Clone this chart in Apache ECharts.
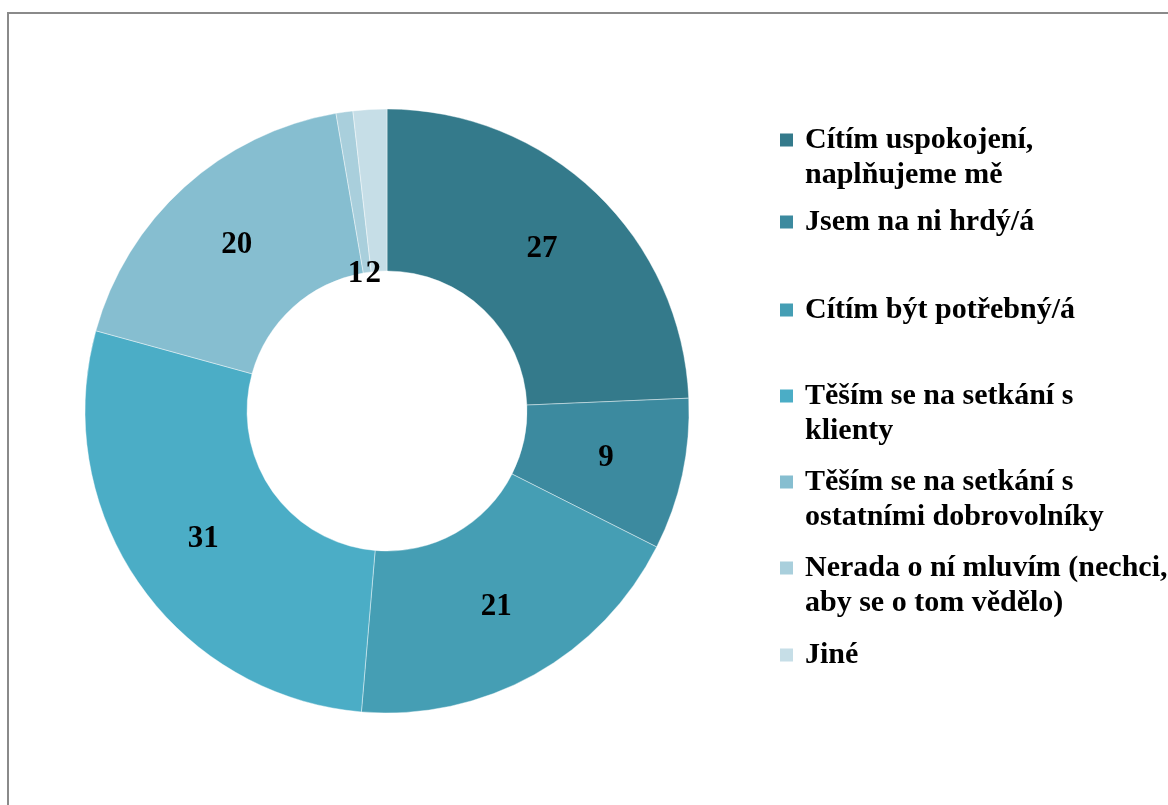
<!DOCTYPE html>
<html>
<head>
<meta charset="utf-8">
<script src="https://cdn.jsdelivr.net/npm/echarts@6/dist/echarts.min.js"></script>
<style>
  html, body { margin: 0; padding: 0; background: #fff; }
  #chart { width: 1168px; height: 805px; }
</style>
</head>
<body>
<div id="chart"></div>
<script>
// categories (legend text, \n = line break as in the picture)
const categories = [
  'Cítím uspokojení,\nnaplňujeme mě',
  'Jsem na ni hrdý/á',
  'Cítím být potřebný/á',
  'Těším se na setkání s\nklienty',
  'Těším se na setkání s\nostatními dobrovolníky',
  'Nerada o ní mluvím (nechci,\naby se o tom vědělo)',
  'Jiné'
];
const values = [27, 9, 21, 31, 20, 1, 2];
const colors = ['#347a8b', '#3c8a9f', '#459eb4', '#4badc6', '#86bed0', '#a9cfdc', '#c6dee7'];
// vertical position of the first text line of each legend entry
const legendLineY = [140, 222, 310, 396, 482, 568, 655];

const FONT = '"Liberation Serif", "Times New Roman", serif';
const LINE_H = 35;

// square marker, padded so that text starts further right and the marker
// sits on the first text line for two-line entries
function markerPath(lines) {
  const h = lines * LINE_H;
  const top = LINE_H / 2 - 6.5;
  return 'path://M0,0L0.001,0M0,' + top + 'L13,' + top + 'L13,' + (top + 13) + 'L0,' + (top + 13) +
    'ZM25,' + h + 'L25.001,' + h;
}

const legends = categories.map((name, i) => {
  const lines = name.split('\n').length;
  return {
    orient: 'vertical',
    left: 780,
    top: legendLineY[i] - LINE_H / 2,
    padding: 0,
    itemWidth: 25,
    itemHeight: lines * LINE_H,
    icon: markerPath(lines),
    itemStyle: { borderWidth: 0 },
    selectedMode: false,
    data: [name],
    textStyle: {
      fontFamily: FONT,
      fontWeight: 'bold',
      fontSize: 30,
      lineHeight: LINE_H,
      color: '#000',
      padding: [0, 0, 0, -5]
    }
  };
});

const chart = echarts.init(document.getElementById('chart'), null, { renderer: 'canvas' });
chart.setOption({
  animation: false,
  color: colors,
  legend: legends,
  graphic: [{
    type: 'rect',
    shape: { x: 8, y: 13, width: 1300, height: 900 },
    style: { fill: 'none', stroke: '#8a8a8a', lineWidth: 2 },
    silent: true
  }],
  series: [{
    type: 'pie',
    center: [387, 411],
    radius: [140, 302],
    startAngle: 90,
    clockwise: true,
    avoidLabelOverlap: false,
    itemStyle: { borderColor: 'rgba(255,255,255,0.6)', borderWidth: 0.7 },
    label: {
      show: true,
      position: 'inside',
      formatter: '{c}',
      fontFamily: FONT,
      fontWeight: 'bold',
      fontSize: 31,
      color: '#000'
    },
    labelLine: { show: false },
    emphasis: { disabled: true },
    data: categories.map((name, i) => {
      const item = { name: name, value: values[i] };
      // the two thin slices have their numbers pushed down to the inner edge
      if (i === 5) item.label = { offset: [0, 85] };
      if (i === 6) item.label = { offset: [-1, 87] };
      return item;
    })
  }]
});
</script>
</body>
</html>
